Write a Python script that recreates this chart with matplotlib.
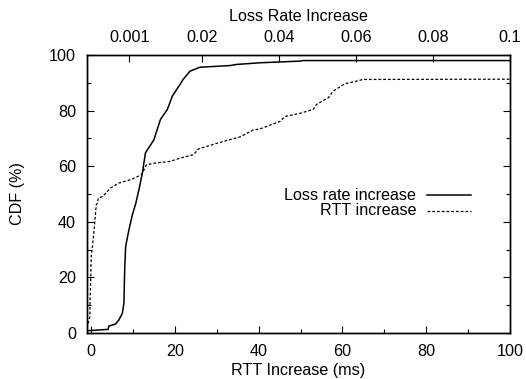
import matplotlib
matplotlib.use("Agg")
import matplotlib.pyplot as plt

plt.rcParams['font.family'] = ['Liberation Sans', 'DejaVu Sans']
plt.rcParams['font.size'] = 11.6

# RTT increase CDF (bottom axis, ms)
rtt_x = [-1.0, -0.9, -0.3, -0.3, -0.1, 0.0, 0.3, 0.7, 1.2, 1.5, 1.7, 2.7, 3.5,
         4.5, 6.5, 9.3, 12.0, 13.2, 15.6, 18.8, 21.2, 24.4, 25.6, 29.1, 31.5,
         35.5, 38.7, 40.3, 45.1, 46.3, 49.8, 53.0, 53.8, 56.6, 57.8, 60.6,
         62.6, 64.9, 100.0]
rtt_cdf = [1.7, 2.3, 5.9, 9.5, 20.3, 27.5, 31.1, 37.1, 46.1, 46.7, 48.5, 49.1,
           50.3, 52.0, 53.9, 55.1, 56.9, 60.5, 61.2, 61.7, 62.9, 64.1, 66.2,
           67.8, 68.9, 70.5, 73.0, 73.4, 76.1, 77.9, 79.0, 80.4, 82.2, 84.6,
           87.0, 89.7, 90.3, 91.2, 91.3]

# loss rate increase CDF (top axis)
loss_x = [-0.0100, -0.0045, -0.0043, -0.0026, -0.0017, -0.0008, -0.0004,
          -0.0002, 0.00005, 0.0009, 0.0018, 0.0027, 0.0035, 0.0044, 0.0052,
          0.0074, 0.0091, 0.0109, 0.0122, 0.0139, 0.0150, 0.0168, 0.0194,
          0.0272, 0.0289, 0.0350, 0.0454, 0.0462, 0.1]
loss_cdf = [0.8, 1.3, 2.5, 3.2, 4.7, 7.1, 10.7, 22.7, 31.1, 37.1, 42.5, 46.7,
            51.5, 57.5, 64.8, 69.5, 76.8, 80.4, 85.2, 88.8, 91.2, 94.2, 95.6,
            96.2, 96.6, 97.2, 97.8, 98.0, 98.0]

top_ticks = [0.001, 0.02, 0.04, 0.06, 0.08, 0.1]
top_labels = ['0.001', '0.02', '0.04', '0.06', '0.08', '0.1']

fig = plt.figure(figsize=(5.26, 3.79), dpi=100)
ax = fig.add_axes([0.1654, 0.1214, 0.804, 0.7335])

ax.plot(rtt_x, rtt_cdf, color='black', lw=0.9, ls=(0, (2.2, 1.6)))
ax.set_xlim(-1, 100)
ax.set_ylim(0, 100)
ax.set_xticks(range(0, 101, 20))
ax.set_xticks(range(10, 100, 20), minor=True)
ax.set_yticks(range(0, 101, 20))
ax.set_yticks(range(10, 100, 20), minor=True)
ax.tick_params(which='both', direction='in', top=False, right=True, width=0.8)
ax.tick_params(which='major', length=5, pad=8)
ax.tick_params(which='minor', length=3)
ax.set_xlabel('RTT Increase (ms)', labelpad=3)
ax.set_ylabel('CDF (%)', labelpad=17)

ax2 = ax.twiny()
ax2.plot(loss_x, loss_cdf, color='black', lw=1.1)
ax2.set_xlim(-0.01, 0.1)
ax2.set_xticks(top_ticks)
ax2.set_xticklabels(top_labels)
ax2.tick_params(direction='in', length=5, width=0.8, pad=7)
ax2.set_xlabel('Loss Rate Increase', labelpad=7)

for a in (ax, ax2):
    for s in a.spines.values():
        s.set_linewidth(1.0)

# key, gnuplot style: text right-aligned, sample on the right
ax.text(0.778, 0.496, 'Loss rate increase', transform=ax.transAxes,
        ha='right', va='center')
ax.plot([0.803, 0.907], [0.496, 0.496], transform=ax.transAxes,
        color='black', lw=1.1)
ax.text(0.778, 0.440, 'RTT increase', transform=ax.transAxes,
        ha='right', va='center')
ax.plot([0.803, 0.907], [0.440, 0.440], transform=ax.transAxes,
        color='black', lw=0.9, ls=(0, (2.2, 1.6)))

fig.savefig('out.png', dpi=100)
